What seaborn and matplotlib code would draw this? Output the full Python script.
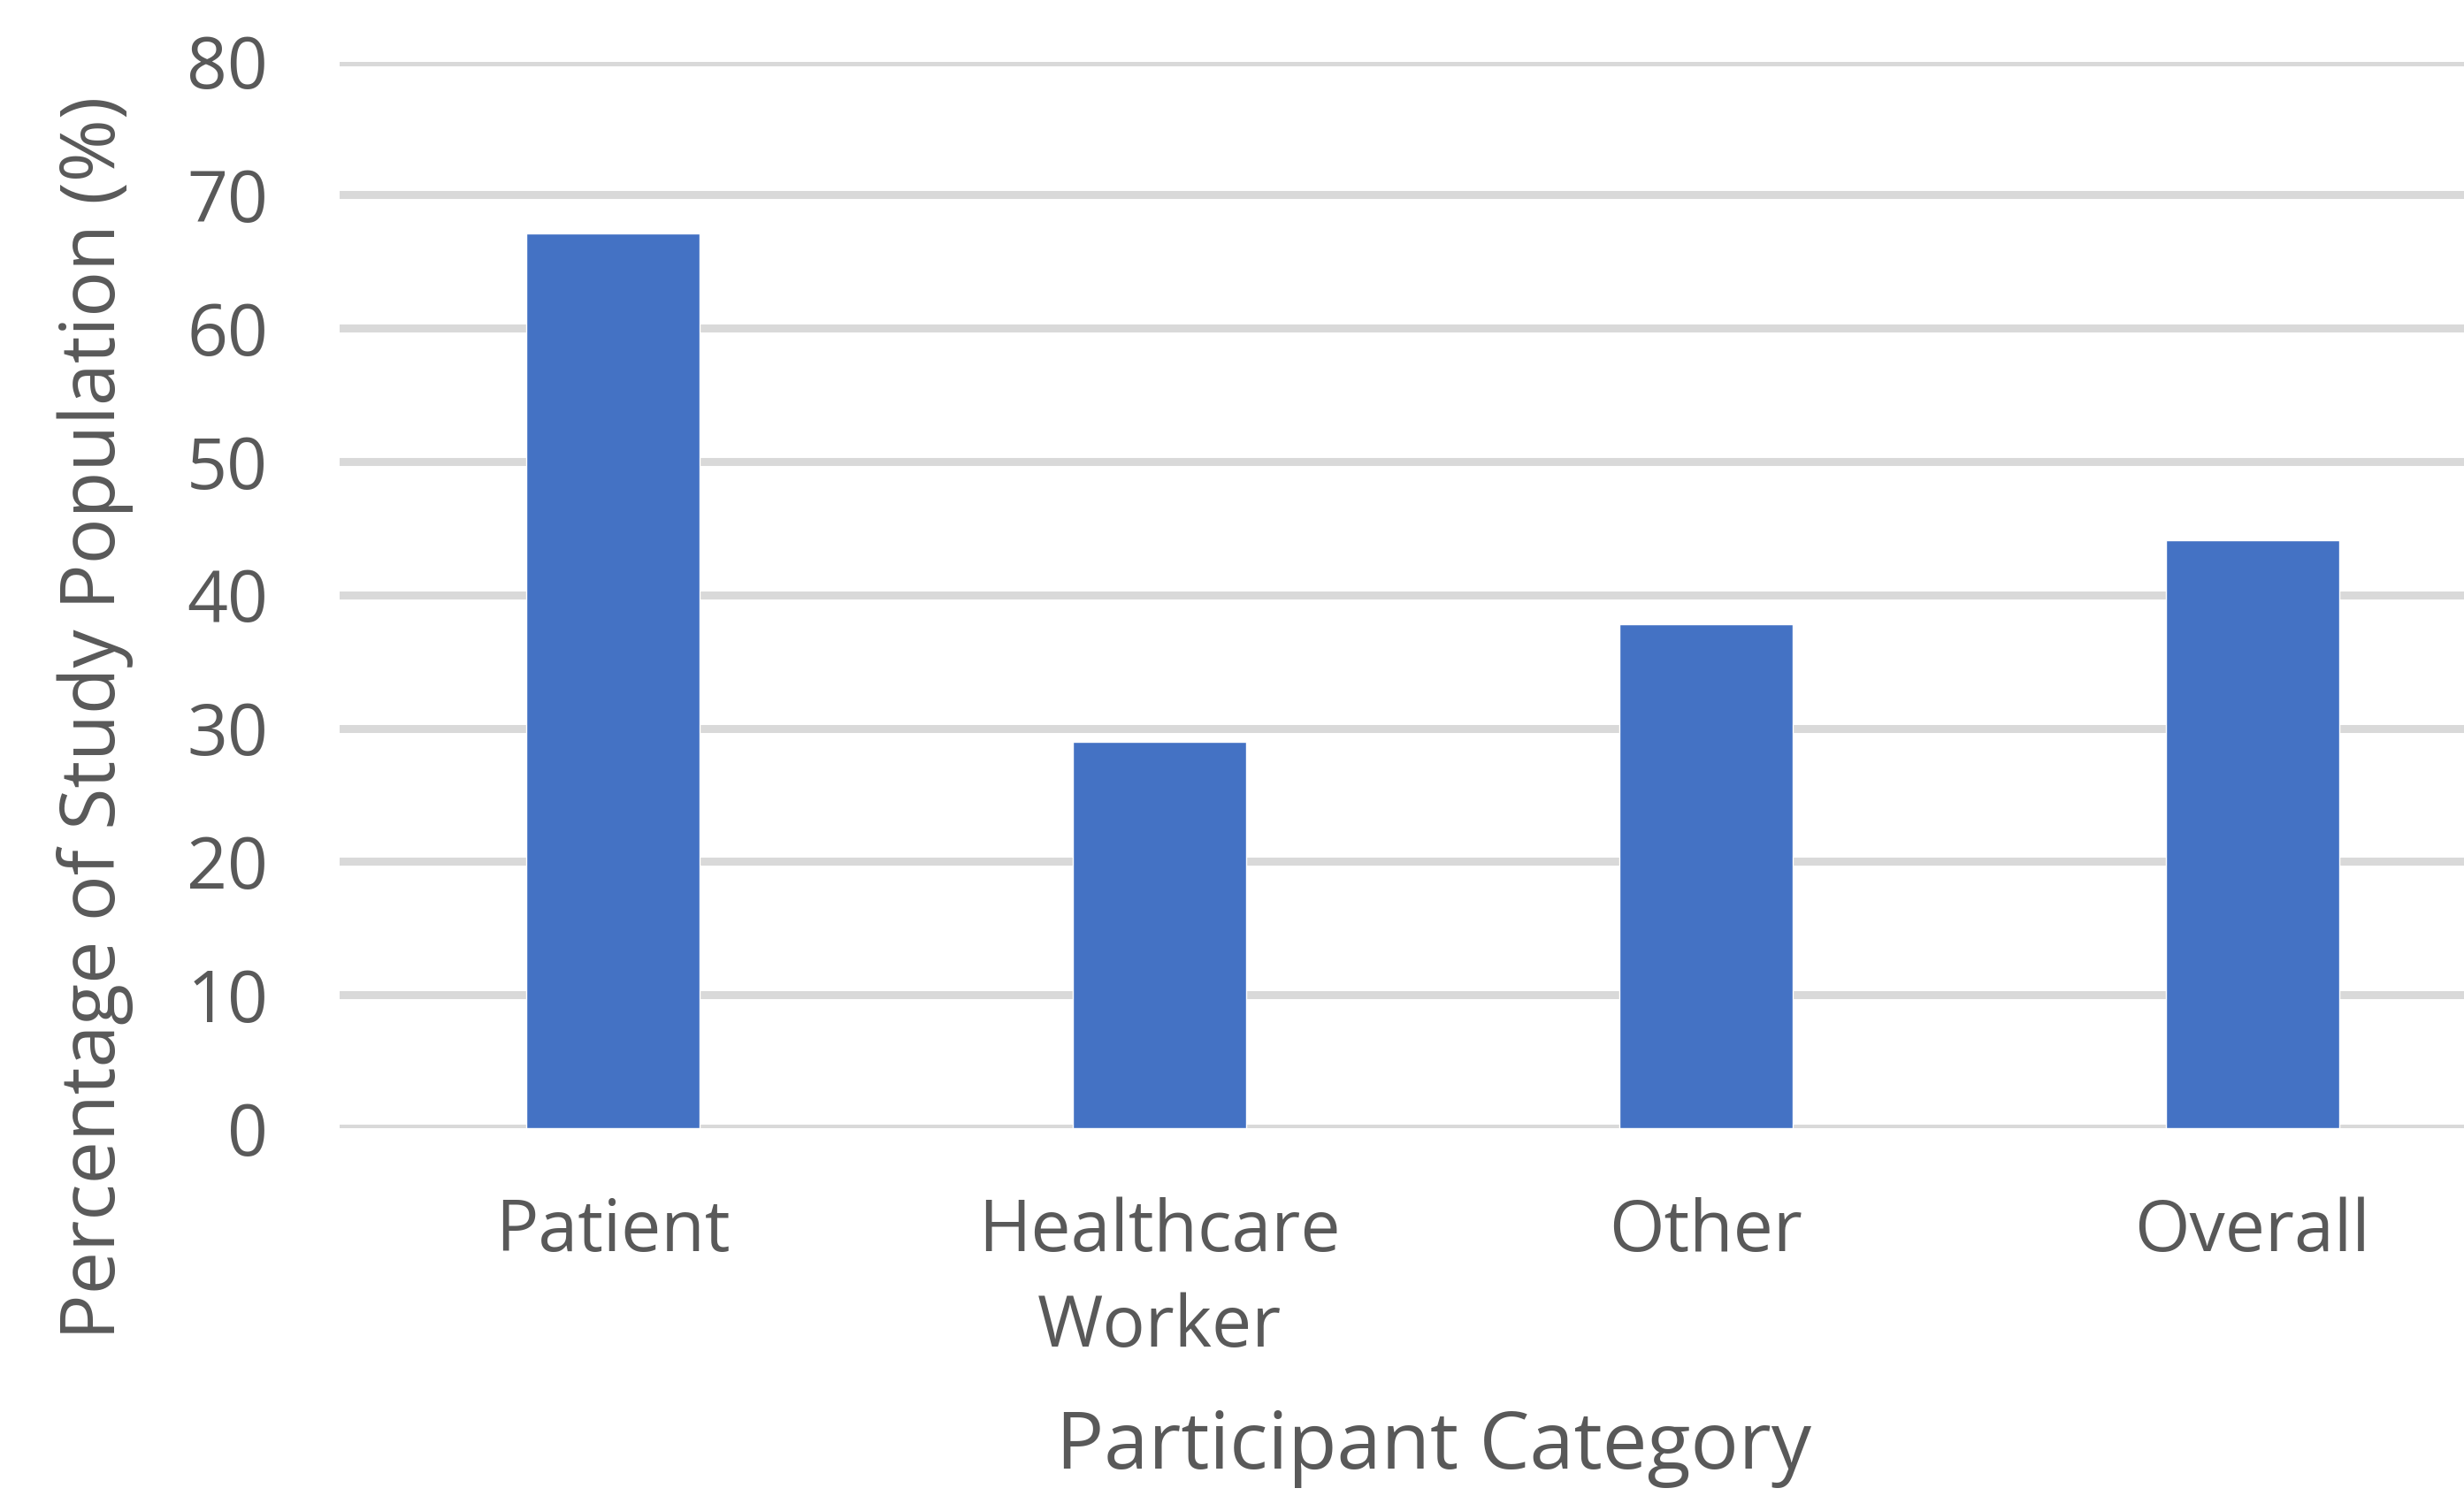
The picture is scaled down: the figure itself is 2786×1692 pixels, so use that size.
import numpy as np
import pandas as pd
import matplotlib
matplotlib.use("Agg")
import matplotlib.pyplot as plt
import seaborn as sns

categories = ["Patient", "Healthcare\nWorker", "Other", "Overall"]
percentages = [67.1, 29.0, 37.8, 44.1]

sns.set_theme(style="white")
plt.rcParams["font.family"] = ["Open Sans", "DejaVu Sans"]

df = pd.DataFrame({"category": categories, "pct": percentages})

fig = plt.figure(figsize=(27.86, 16.92), dpi=100)
ax = fig.add_axes([0.1378, 0.2459, 0.8622, 0.7130])

sns.barplot(data=df, x="category", y="pct", ax=ax, color="#4472C4",
            width=0.317, saturation=1, zorder=3)

ax.set_ylim(0, 80)
ax.set_xlim(-0.5, 3.387)
ax.set_yticks(np.arange(0, 81, 10))
ax.yaxis.grid(True, color="#d9d9d9", linewidth=6.5, zorder=0)
ax.set_axisbelow(True)
for s in ax.spines.values():
    s.set_visible(False)

ax.tick_params(axis="y", length=0, pad=58, labelsize=58, labelcolor="#595959")
ax.tick_params(axis="x", length=0, pad=56, labelsize=58, labelcolor="#595959")
for lab in ax.get_xticklabels():
    lab.set_linespacing(1.45)

ax.set_xlabel("Participant Category", fontsize=65, color="#595959")
ax.set_ylabel("Percentage of Study Population (%)", fontsize=62, color="#595959")
ax.xaxis.set_label_coords(0.515, -0.262)
ax.yaxis.set_label_coords(-0.097, 0.385)

fig.savefig("out.png", dpi=100)
